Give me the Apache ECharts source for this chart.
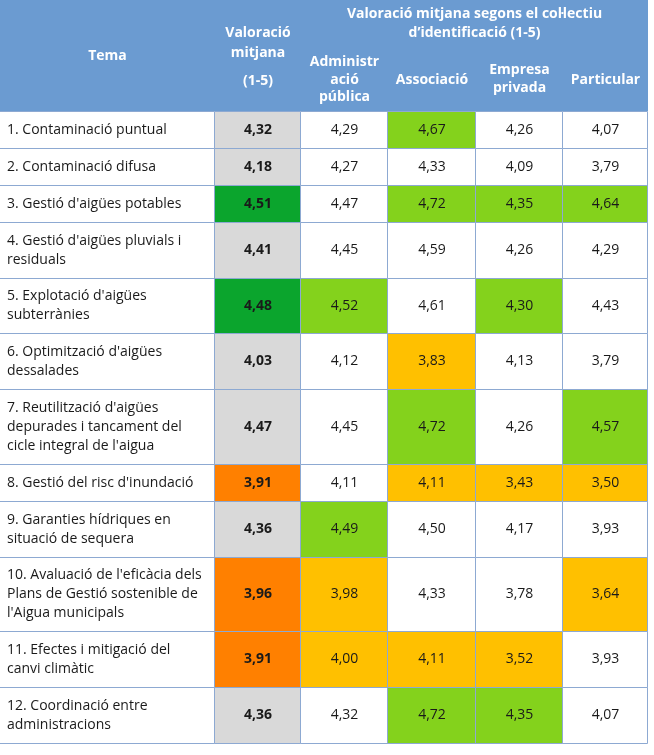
<!DOCTYPE html>
<html lang="ca">
<head>
<meta charset="UTF-8">
<title>Valoració mitjana per tema</title>
<script src="https://cdn.jsdelivr.net/npm/echarts@6/dist/echarts.min.js"></script>
<style>
    html, body { margin: 0; padding: 0; background: #fff; }
    #chart { width: 654px; height: 755px; }
</style>
</head>
<body>
<div id="chart"></div>
<script>
// Dades de la taula
var temes = [
    '1. Contaminació puntual',
    '2. Contaminació difusa',
    "3. Gestió d'aigües potables",
    "4. Gestió d'aigües pluvials i\nresiduals",
    "5. Explotació d'aigües\nsubterrànies",
    "6. Optimització d'aigües\ndessalades",
    "7. Reutilització d'aigües\ndepurades i tancament del\ncicle integral de l'aigua",
    "8. Gestió del risc d'inundació",
    "9. Garanties hídriques en\nsituació de sequera",
    "10. Avaluació de l'eficàcia dels\nPlans de Gestió sostenible de\nl'Aigua municipals",
    "11. Efectes i mitigació del\ncanvi climàtic",
    "12. Coordinació entre\nadministracions"
];
var capTema = 'Tema';
var capMitjana = ['Valoració\nmitjana', '(1-5)'];
var capGrup = 'Valoració mitjana segons el col·lectiu\nd’identificació (1-5)';
var columnes = ['Administr\nació\npública', 'Associació', 'Empresa\nprivada', 'Particular'];

var valoracioMitjana = [4.32, 4.18, 4.51, 4.41, 4.48, 4.03, 4.47, 3.91, 4.36, 3.96, 3.91, 4.36];
var administracio    = [4.29, 4.27, 4.47, 4.45, 4.52, 4.12, 4.45, 4.11, 4.49, 3.98, 4.00, 4.32];
var associacio       = [4.67, 4.33, 4.72, 4.59, 4.61, 3.83, 4.72, 4.11, 4.50, 4.33, 4.11, 4.72];
var empresa          = [4.26, 4.09, 4.35, 4.26, 4.30, 4.13, 4.26, 3.43, 4.17, 3.78, 3.52, 4.35];
var particular       = [4.07, 3.79, 4.64, 4.29, 4.43, 3.79, 4.57, 3.50, 3.93, 3.64, 3.93, 4.07];

// 1 = destacat alt, -1 = destacat baix, 0 = sense destacar
var destacatMitjana    = [0, 0, 1, 0, 1, 0, 0, -1, 0, -1, -1, 0];
var destacatAdmin      = [0, 0, 0, 0, 1, 0, 0, 0, 1, -1, -1, 0];
var destacatAssoc      = [1, 0, 1, 0, 0, -1, 1, -1, 0, 0, -1, 1];
var destacatEmpresa    = [0, 0, 1, 0, 1, 0, 0, -1, 0, 0, -1, 1];
var destacatParticular = [0, 0, 1, 0, 0, 0, 1, -1, 0, -1, 0, 0];

var valueCols = [valoracioMitjana, administracio, associacio, empresa, particular];
var destacats = [destacatMitjana, destacatAdmin, destacatAssoc, destacatEmpresa, destacatParticular];

// Disseny
var FONT = '"Open Sans", "Noto Sans", sans-serif';
var headerBg = '#6B9BD1';
var lineColor = '#8DA9D2';
var textColor = '#1a1a1a';

var colWidths = [215, 86, 87, 88, 87, 85];
var colEdges = [0];
colWidths.forEach(function (w) { colEdges.push(colEdges[colEdges.length - 1] + w); });

var headerH = 111;
var rowEdges = [headerH];
var acc = headerH;
temes.forEach(function (t) {
    acc += 18 + 18.9 * t.split('\n').length;
    rowEdges.push(Math.round(acc));
});
var totalW = colEdges[colEdges.length - 1];
var totalH = rowEdges[rowEdges.length - 1];

// cel·les de la capçalera: columnes c0..c1, files y0..y1, centre del text ty
var headerCells = [
    { c0: 0, c1: 1, y0: 0, y1: headerH, ty: 56, lh: 19, text: capTema },
    { c0: 1, c1: 2, y0: 0, y1: headerH, ty: 43, lh: 20, text: capMitjana[0] },
    { c0: 1, c1: 2, y0: 0, y1: 0, ty: 81, lh: 19, text: capMitjana[1] },
    { c0: 2, c1: 6, y0: 0, y1: 45, ty: 24, lh: 19, text: capGrup },
    { c0: 2, c1: 3, y0: 45, y1: headerH, ty: 80, lh: 17.5, text: columnes[0] },
    { c0: 3, c1: 4, y0: 45, y1: headerH, ty: 80, lh: 17.5, text: columnes[1] },
    { c0: 4, c1: 5, y0: 45, y1: headerH, ty: 79, lh: 18, text: columnes[2] },
    { c0: 5, c1: 6, y0: 45, y1: headerH, ty: 80, lh: 17.5, text: columnes[3] }
];

function fmt(v) { return v.toFixed(2).replace('.', ','); }

function cellColor(c, r) {
    if (c === 0) return '#ffffff';
    var d = destacats[c - 1][r];
    if (c === 1) return d === 1 ? '#0BA52D' : (d === -1 ? '#FF8000' : '#D9D9D9');
    return d === 1 ? '#84D21C' : (d === -1 ? '#FFC000' : '#ffffff');
}

var headerData = headerCells.map(function (h, i) { return [i]; });
var bodyData = [];
for (var c = 0; c < 6; c++) {
    for (var r = 0; r < temes.length; r++) bodyData.push([c, r]);
}

var chart = echarts.init(document.getElementById('chart'));

var option = {
    animation: false,
    grid: { left: 0, top: 0, width: totalW, height: totalH },
    xAxis: { type: 'value', min: 0, max: totalW, show: false },
    yAxis: { type: 'value', min: 0, max: totalH, inverse: true, show: false },
    series: [
        {
            name: 'capçalera',
            type: 'custom',
            data: headerData,
            renderItem: function (params, api) {
                var h = headerCells[api.value(0)];
                var p0 = api.coord([colEdges[h.c0], h.y0]);
                var p1 = api.coord([colEdges[h.c1], h.y1]);
                var mid = api.coord([(colEdges[h.c0] + colEdges[h.c1]) / 2, h.ty]);
                return {
                    type: 'group',
                    children: [
                        {
                            type: 'rect',
                            shape: { x: p0[0], y: p0[1], width: p1[0] - p0[0], height: p1[1] - p0[1] },
                            style: { fill: headerBg }
                        },
                        {
                            type: 'text',
                            style: {
                                text: h.text, x: mid[0], y: mid[1],
                                align: 'center', verticalAlign: 'middle',
                                fill: '#ffffff', fontFamily: FONT, fontWeight: 'bold',
                                fontSize: 14, lineHeight: h.lh
                            }
                        }
                    ]
                };
            }
        },
        {
            name: 'cos',
            type: 'custom',
            data: bodyData,
            renderItem: function (params, api) {
                var c = api.value(0), r = api.value(1);
                var p0 = api.coord([colEdges[c], rowEdges[r]]);
                var p1 = api.coord([colEdges[c + 1], rowEdges[r + 1]]);
                var x = Math.round(p0[0]) - 0.5, y = Math.round(p0[1]) + 0.5;
                var w = Math.round(p1[0]) - Math.round(p0[0]);
                var hh = Math.round(p1[1]) - Math.round(p0[1]);
                var midY = (p0[1] + p1[1]) / 2;
                var txt, tx, align, weight = 'normal';
                if (c === 0) {
                    txt = temes[r]; tx = p0[0] + 7; align = 'left';
                } else {
                    txt = fmt(valueCols[c - 1][r]); tx = (p0[0] + p1[0]) / 2; align = 'center';
                    if (c === 1) weight = 'bold';
                }
                return {
                    type: 'group',
                    children: [
                        {
                            type: 'rect',
                            shape: { x: x, y: y, width: w, height: hh },
                            style: { fill: cellColor(c, r), stroke: lineColor, lineWidth: 1 }
                        },
                        {
                            type: 'text',
                            style: {
                                text: txt, x: tx, y: midY + 0.5,
                                align: align, verticalAlign: 'middle',
                                fill: textColor, fontFamily: FONT, fontWeight: weight,
                                fontSize: 14, lineHeight: 19
                            }
                        }
                    ]
                };
            }
        }
    ]
};

chart.setOption(option);
</script>
</body>
</html>
